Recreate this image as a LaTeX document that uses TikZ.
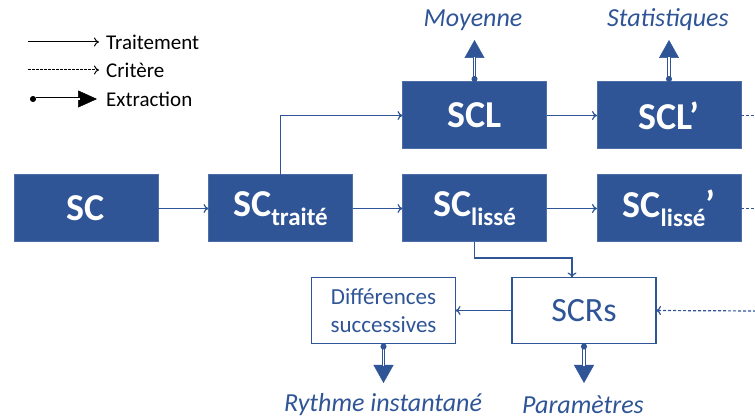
\documentclass[tikz,border=0pt]{standalone}
\usepackage{fontspec}
\setmainfont{Carlito}
\usetikzlibrary{arrows.meta}
\definecolor{bl}{HTML}{2F5597}
\tikzset{
  fbox/.style={fill=bl,draw=bl!85!white,line width=1pt,minimum width=144pt,minimum height=67pt,inner sep=0pt,outer sep=0pt,text=white,font=\bfseries\fontsize{38}{40}\selectfont},
  wbox/.style={fill=white,draw=bl,line width=1.8pt,minimum width=144pt,minimum height=66pt,inner sep=0pt,outer sep=0pt,text=bl},
  trt/.style={draw=bl,line width=1.2pt,-{To[length=5pt,width=9pt]}},
  crit/.style={draw=bl,line width=1.2pt,dash pattern=on 3pt off 2pt,-{To[length=5pt,width=9pt]}},
  extt/.style={draw=bl,line width=0.5pt,-{Triangle[length=18pt,width=20pt]}},
  extl/.style={draw=bl,line width=1.1pt,double=white,double distance=1.6pt,{Circle[length=6pt,width=6pt]}-,shorten >=17pt},
  lab/.style={text=bl,font=\itshape\fontsize{26}{28}\selectfont,inner sep=0pt},
  leg/.style={text=black,font=\fontsize{21}{23}\selectfont,anchor=west,inner sep=0pt},
}
\newcommand{\subt}[1]{\raisebox{-9pt}{\fontsize{25}{26}\selectfont #1}}
\begin{document}
\begin{tikzpicture}[x=1pt,y=-1pt]
\useasboundingbox (0,0) rectangle (755,419);
% legend
\node[leg] (t1) at (106,42) {Traitement};
\node[leg] (t2) at (106,70) {Critère};
\node[leg] (t3) at (106,99) {Extraction};
\coordinate (l1) at (28,42);
\coordinate (l2) at (28,70);
\coordinate (l3) at (30,99);
\draw[line width=1pt,-{To[length=5pt,width=9pt]}] (l1) -- ([xshift=-7pt]t1.west);
\draw[line width=1pt,dash pattern=on 2.5pt off 1.5pt,-{To[length=5pt,width=9pt]}] (l2) -- ([xshift=-7pt]t2.west);
\draw[extt,draw=black,-{Triangle[length=19pt,width=17pt]}] (l3) -- ([xshift=-9pt]t3.west);
\draw[extl,draw=black,line width=0.9pt,double distance=1.2pt] (l3) -- ([xshift=-9pt]t3.west);
% boxes
\node[fbox] (sc) at (86,208.5) {SC};
\node[fbox] (tr) at (280.5,208.5) {SC\subt{traité}};
\node[fbox] (li) at (474.5,208.5) {SC\subt{lissé}};
\node[fbox] (li2) at (669,208.5) {SC\subt{lissé}’};
\node[fbox] (scl) at (474.5,115.5) {SCL};
\node[fbox] (scl2) at (669,115.5) {SCL’};
\node[wbox,font=\fontsize{23}{28}\selectfont,align=center] (dif) at (383.5,310.5) {Différences\\successives};
\node[wbox,font=\fontsize{34}{36}\selectfont] (scr) at (584,310.5) {SCRs};
% labels
\node[lab] (moy) at (473,20) {Moyenne};
\node[lab] (sta) at (668,20) {Statistiques};
\node[lab] (ryt) at (383,405) {Rythme instantané};
\node[lab] (par) at (583,405) {Paramètres};
% connectors
\draw[trt] (sc) -- (tr);
\draw[trt] (tr) -- (li);
\draw[trt] (li) -- (li2);
\draw[trt] (tr.north) |- (scl.west);
\draw[trt] (scl) -- (scl2);
\coordinate (k) at (572,258);
\draw[trt] (li.south) |- (k) -- (k |- scr.north);
\draw[trt] (scr) -- (dif);
\coordinate (e1) at (756,115.5);
\coordinate (e2) at (756,208.5);
\coordinate (e3) at (756,311);
\draw[draw=bl,line width=1.2pt,dash pattern=on 3pt off 2pt] (scl2) -- (e1);
\draw[draw=bl,line width=1.2pt,dash pattern=on 3pt off 2pt] (li2) -- (e2);
\draw[crit] (e3) -- (scr.east);
% extraction
\coordinate (x1) at (474.5,40);
\coordinate (x2) at (669,40);
\coordinate (x3) at (383.5,383);
\coordinate (x4) at (584,383);
\foreach \s/\t in {scl/x1,scl2/x2,dif/x3,scr/x4}{
  \draw[extt] (\s) -- (\t);
}
\draw[extl] (scl.north) -- (x1);
\draw[extl] (scl2.north) -- (x2);
\draw[extl] (dif.south) -- (x3);
\draw[extl] (scr.south) -- (x4);
\end{tikzpicture}
\end{document}
